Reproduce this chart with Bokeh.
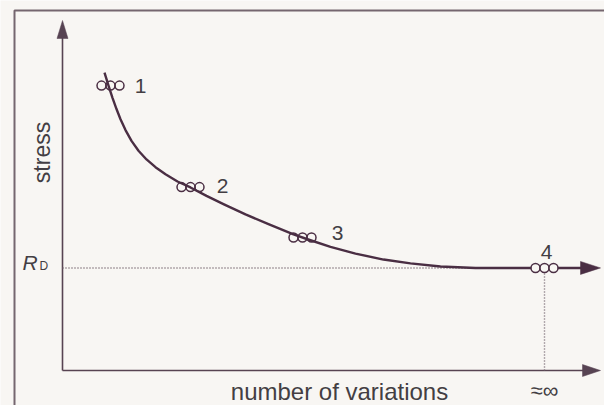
import numpy as np
from bokeh.plotting import figure
from bokeh.models import Range1d
from bokeh.core.properties import value
from bokeh.embed import file_html
from bokeh.resources import INLINE

# ---- data (arbitrary units: x = number of variations, y = stress) ----
curve_x = [0.84, 0.92, 1.00, 1.08, 1.16, 1.26, 1.38, 1.52, 1.68, 1.86, 2.06, 2.30,
           2.56, 2.88, 3.24, 3.66, 4.12, 4.62, 4.90, 5.36, 5.86, 6.42, 6.96, 7.56,
           8.26, 8.96, 9.64, 10.76]
curve_y = [8.51, 8.14, 7.79, 7.47, 7.18, 6.87, 6.56, 6.28, 6.03, 5.81, 5.61, 5.40,
           5.23, 4.99, 4.74, 4.46, 4.18, 3.89, 3.75, 3.53, 3.34, 3.17, 3.06, 2.97,
           2.93, 2.93, 2.93, 2.93]
point_labels = ["1", "2", "3", "4"]
point_x = [0.96, 2.56, 4.80, 9.64]
point_y = [8.14, 5.24, 3.80, 2.93]
r_d = 2.93            # endurance limit R_D
x_infinity = 9.64     # "≈∞" number of variations
x_axis_end = 10.76
y_axis_end = 10.0

# ---- layout / style ----
PX_X, PX_Y = 50.0, 35.0          # pixels per data unit
W, H = 604, 405
x0, y0 = -62 / PX_X, -35 / PX_Y
BG = "#f8f6f3"
CURVE = "#4a2e43"
AXIS = "#574352"
FRAME = "#75666f"
DOT = "#6a5a66"
TXT = "#433e43"
FONT = value("Liberation Sans")

p = figure(width=W, height=H, output_backend="svg", toolbar_location=None,
           x_axis_type=None, y_axis_type=None, min_border=0,
           x_range=Range1d(x0, x0 + W / PX_X), y_range=Range1d(y0, y0 + H / PX_Y))
p.outline_line_color = None
p.grid.visible = False
p.background_fill_color = BG
p.border_fill_color = BG


def head(tx, ty, dx, dy, length=18, half=5.5):
    # triangle arrow head, tip at (tx, ty), pointing along (dx, dy) (screen dirs)
    bx = tx - dx * length / PX_X
    by = ty - dy * length / PX_Y
    px_, py_ = -dy, dx
    return ([tx, bx + px_ * half / PX_X, bx - px_ * half / PX_X],
            [ty, by + py_ * half / PX_Y, by - py_ * half / PX_Y])


# outer frame of the figure
fx = -48 / PX_X
ftop = 360 / PX_Y
p.line([fx, fx, 20], [-5, ftop, ftop], line_color=FRAME, line_width=2)

# axes with arrows
p.line([0, 0], [0, y_axis_end - 12 / PX_Y], line_color=AXIS, line_width=1.6)
hx, hy = head(0, y_axis_end, 0, 1, 18, 5.5)
p.patch(hx, hy, fill_color=AXIS, line_color=AXIS, line_width=0.5)
p.line([0, x_axis_end - 12 / PX_X], [0, 0], line_color=AXIS, line_width=1.6)
hx, hy = head(x_axis_end, 0, 1, 0, 18, 6)
p.patch(hx, hy, fill_color=AXIS, line_color=AXIS, line_width=0.5)

# dotted reference lines
p.line([0, x_infinity], [r_d, r_d], line_color=DOT, line_width=1.4, line_dash="1 2")
p.line([x_infinity, x_infinity], [0, r_d], line_color=DOT, line_width=1.4, line_dash="1 2")

# curve with arrow
cx = list(curve_x[:-1]) + [curve_x[-1] - 12 / PX_X]
p.line(cx, curve_y, line_color=CURVE, line_width=2.4, line_join="round")
hx, hy = head(curve_x[-1], curve_y[-1], 1, 0, 20, 6.5)
p.patch(hx, hy, fill_color=CURVE, line_color=CURVE, line_width=0.5)

# triple circles at the test points
cxs, cys, fills = [], [], []
for i, (x, y) in enumerate(zip(point_x, point_y)):
    for k in (-1, 0, 1):
        cxs.append(x + k * 9 / PX_X)
        cys.append(y)
        fills.append(1.0 if i == 3 else 0.0)
p.scatter(cxs, cys, marker="circle", size=9, fill_color=BG, fill_alpha=fills,
          line_color=CURVE, line_width=1.5)

# point labels
lab_dx = [30, 32, 35, 2]
lab_dy = [0, 1, 5, 16]
lx = [x + dx / PX_X for x, dx in zip(point_x, lab_dx)]
ly = [y + dy / PX_Y for y, dy in zip(point_y, lab_dy)]
p.text(lx, ly, text=point_labels, text_font=FONT, text_font_size="21px",
       text_color=TXT, text_align="center", text_baseline="middle")

# R_D label
p.text([-40 / PX_X], [r_d + 5 / PX_Y], text=["R"], text_font=FONT, text_font_size="21px",
       text_font_style="italic", text_color=TXT, text_align="left", text_baseline="middle")
p.text([-23 / PX_X], [r_d + 1.5 / PX_Y], text=["D"], text_font=FONT, text_font_size="12px",
       text_color=TXT, text_align="left", text_baseline="middle")

# axis titles
p.text([-21 / PX_X], [218 / PX_Y], text=["stress"], text_font=FONT, text_font_size="23px",
       text_color=TXT, angle=np.pi / 2, text_align="center", text_baseline="middle")
p.text([277 / PX_X], [-21 / PX_Y], text=["number of variations"], text_font=FONT,
       text_font_size="24px", text_color=TXT, text_align="center", text_baseline="middle")
p.text([x_infinity], [-20 / PX_Y], text=["≈∞"], text_font=FONT, text_font_size="22px",
       text_color=TXT, text_align="center", text_baseline="middle")

open("out.html", "w").write(file_html(p, INLINE))
